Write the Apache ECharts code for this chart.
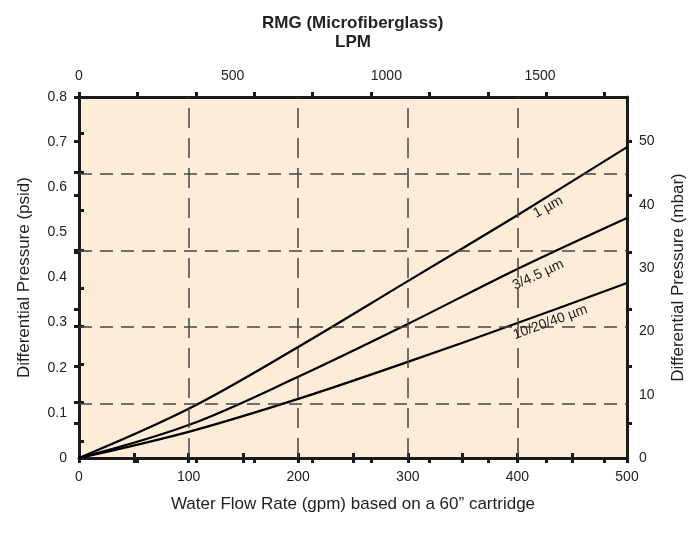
<!DOCTYPE html>
<html>
<head>
<meta charset="utf-8">
<script src="https://cdn.jsdelivr.net/npm/echarts@6/dist/echarts.min.js"></script>
<style>
  html, body { margin: 0; padding: 0; background: #fff; }
  #chart { width: 688px; height: 541px; }
</style>
</head>
<body>
<div id="chart"></div>
<script>
// values
const flowGpm = [0, 100, 200, 300, 400, 500]
const dp1um = [0, 0.109, 0.246, 0.392, 0.538, 0.689]
const dp3um = [0, 0.073, 0.180, 0.297, 0.419, 0.532]
const dp10um = [0, 0.058, 0.131, 0.213, 0.299, 0.388]
const seriesNames = ['1 µm', '3/4.5 µm', '10/20/40 µm']
const guidesPsid = [0.124, 0.293, 0.461, 0.634]   // dashed horizontal guides
const guidesGpm = [100, 200, 300, 400]           // dashed vertical guides
const gpmMax = 500
const psidMax = 0.8
const lpmMax = 1783   // top scale as drawn
const mbarMax = 57    // right scale as drawn

// tick marks as drawn in the reference
const gpmTicks = [0, 50, 100, 150, 200, 250, 300, 350, 400, 450, 500]
const lpmTicks = [0, 190, 380, 570, 760, 950, 1140, 1330, 1520, 1710]
const psidTicksMajor = [0.124, 0.293, 0.461, 0.634, 0.8]
const psidTicksMinor = [0.038, 0.124, 0.208, 0.293, 0.377, 0.461, 0.548, 0.634, 0.72, 0.8]
const mbarTicks = [5.5, 14.5, 23.5, 32.5, 41.5, 50]

const FONT = '"Liberation Sans", Arial, sans-serif'
const INK = '#1a1a1a'

const chart = echarts.init(document.getElementById('chart'))

const axisLine = { show: true, onZero: false, lineStyle: { color: INK, width: 3 } }
const ticks = (values, inside) => ({
  show: true, inside, length: 5, customValues: values,
  lineStyle: { color: INK, width: 3 }
})
const label = (margin, showMax) => ({
  fontFamily: FONT, fontSize: 14, color: '#222', margin, showMaxLabel: showMax,
  formatter: v => String(v)
})
const nameStyle = { fontFamily: FONT, fontSize: 17, color: '#222' }
const hidden = { show: false }
const guideStyle = (dash) => ({ color: '#444', width: 1.5, type: dash })

// overlay axes on the second grid: inside tick marks only
const tickAxis = (position, max, values) => ({
  type: 'value', gridIndex: 1, position, min: 0, max,
  axisLine: hidden, axisTick: ticks(values, true),
  axisLabel: hidden, splitLine: hidden
})

const pairs = (ys) => flowGpm.map((x, i) => [x, ys[i]])

const guides = (dim, values, dash) => ({
  silent: true,
  symbol: ['none', 'none'],
  label: hidden,
  lineStyle: guideStyle(dash),
  data: values.map(v => ({ [dim]: v }))
})

const curve = (name, ys, at, angle, extra) => Object.assign({
  name,
  type: 'line',
  xAxisIndex: 0,
  yAxisIndex: 0,
  data: pairs(ys),
  symbol: 'none',
  smooth: 0.35,
  lineStyle: { color: '#000', width: 2.2 },
  markPoint: {
    symbol: 'rect',
    symbolSize: 1,
    itemStyle: { color: 'rgba(0,0,0,0)' },
    label: {
      show: true, position: 'inside', rotate: angle,
      formatter: name, fontFamily: FONT, fontSize: 14, color: '#222'
    },
    data: [{ coord: at }]
  },
  z: 3
}, extra)

const rect = { left: 79, right: 61, top: 97, bottom: 83, outerBoundsMode: 'none', containLabel: false }

chart.setOption({
  animation: false,
  grid: [
    Object.assign({ show: true, backgroundColor: '#FDEDD8', borderWidth: 0 }, rect),
    Object.assign({ show: false }, rect)
  ],
  graphic: [{
    type: 'text', left: 362 - 100, top: 15,
    style: { text: 'RMG (Microfiberglass)', font: 'bold 17px ' + FONT, fill: '#222', width: 200, align: 'center' }
  }],
  xAxis: [
    {
      type: 'value', position: 'bottom', min: 0, max: gpmMax, interval: 100,
      axisLine, axisTick: ticks(gpmTicks, false), axisLabel: label(12, true),
      splitLine: hidden,
      name: 'Water Flow Rate (gpm) based on a 60\u201d cartridge',
      nameLocation: 'middle', nameGap: 38, nameTextStyle: nameStyle
    },
    {
      type: 'value', position: 'top', min: 0, max: lpmMax, interval: 500,
      axisLine, axisTick: ticks(lpmTicks, false), axisLabel: label(14, false),
      splitLine: hidden,
      name: 'LPM', nameLocation: 'middle', nameGap: 46,
      nameTextStyle: { fontFamily: FONT, fontSize: 17, fontWeight: 'bold', color: '#222' }
    },
    tickAxis('bottom', gpmMax, gpmTicks),
    tickAxis('top', lpmMax, lpmTicks)
  ],
  yAxis: [
    {
      type: 'value', position: 'left', min: 0, max: psidMax, interval: 0.1,
      axisLine, axisTick: ticks(psidTicksMajor, false), axisLabel: label(12, true),
      splitLine: hidden,
      name: 'Differential Pressure (psid)', nameLocation: 'middle', nameGap: 46,
      nameRotate: 90, nameTextStyle: nameStyle
    },
    {
      type: 'value', position: 'right', min: 0, max: mbarMax, interval: 10,
      axisLine, axisTick: ticks(mbarTicks, false), axisLabel: label(12, false),
      splitLine: hidden,
      name: 'Differential Pressure (mbar)', nameLocation: 'middle', nameGap: 43,
      nameRotate: 90, nameTextStyle: nameStyle
    },
    tickAxis('left', psidMax, psidTicksMinor),
    tickAxis('right', mbarMax, mbarTicks)
  ],
  series: [
    curve(seriesNames[0], dp1um, [428, 0.556], 29, { markLine: guides('yAxis', guidesPsid, [13, 8]) }),
    curve(seriesNames[1], dp3um, [419, 0.406], 25, { markLine: guides('xAxis', guidesGpm, [20, 10]) }),
    curve(seriesNames[2], dp10um, [430, 0.301], 20)
  ]
})
</script>
</body>
</html>
